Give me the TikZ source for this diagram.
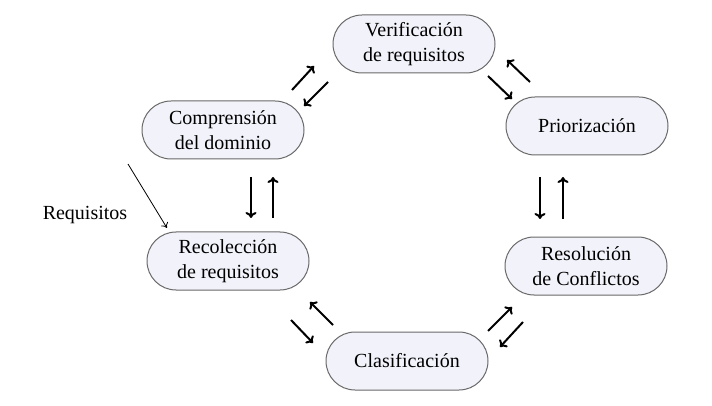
\documentclass[tikz,border=0pt]{standalone}
\usepackage{tikz}
\usepackage{fontspec}
\setmainfont{Liberation Serif}
\usetikzlibrary{positioning,arrows.meta}
\definecolor{boxfill}{RGB}{242,242,250}
\definecolor{boxline}{RGB}{105,105,105}
\tikzset{
  etapa/.style={draw=boxline, fill=boxfill, line width=1pt, rounded corners=29pt,
    minimum width=162pt, minimum height=58pt, inner sep=0pt, align=center,
    font=\fontsize{20}{24.5}\selectfont},
  flecha/.style={-{To[length=6pt,width=11pt,line width=2pt]}, line width=2pt},
  entrada/.style={-{To[length=5pt,width=8pt]}, line width=0.8pt},
}

\begin{document}
\begin{tikzpicture}[x=1pt,y=-1pt]
\useasboundingbox (0,0) rectangle (712,406);
% etapas del ciclo
\node[etapa] (verif) at (414,44) {Verificación\\de requisitos};
\node[etapa] (prior) at (587,126) {Priorización};
\node[etapa] (compr) at (223,130) {Comprensión\\del dominio};
\node[etapa] (recol) at (228,261) {Recolección\\de requisitos};
\node[etapa] (resol) at (586,266) {Resolución\\de Conflictos};
\node[etapa] (clasif) at (407,361) {Clasificación};
% entrada
\node[font=\fontsize{20}{24.5}\selectfont] (req) at (85,215) {Requisitos};
\coordinate (reqA) at (128,164);
\coordinate (reqB) at (167,228);
\draw[entrada] (reqA) -- (reqB);
% comprension <-> verificacion
\coordinate (cv1) at (292,90);  \coordinate (cv2) at (314,66);
\coordinate (cv3) at (328,82);  \coordinate (cv4) at (304,106);
\draw[flecha] (cv1) -- (cv2);
\draw[flecha] (cv3) -- (cv4);
% verificacion <-> priorizacion
\coordinate (vp1) at (488,76);  \coordinate (vp2) at (512,99);
\coordinate (vp3) at (530,82);  \coordinate (vp4) at (507,60);
\draw[flecha] (vp1) -- (vp2);
\draw[flecha] (vp3) -- (vp4);
% priorizacion <-> resolucion
\coordinate (pr1) at (540,177); \coordinate (pr2) at (540,219);
\coordinate (pr3) at (563,219); \coordinate (pr4) at (563,177);
\draw[flecha] (pr1) -- (pr2);
\draw[flecha] (pr3) -- (pr4);
% resolucion <-> clasificacion
\coordinate (rc1) at (488,331); \coordinate (rc2) at (512,307);
\coordinate (rc3) at (523,322); \coordinate (rc4) at (500,347);
\draw[flecha] (rc1) -- (rc2);
\draw[flecha] (rc3) -- (rc4);
% clasificacion <-> recoleccion
\coordinate (cr1) at (333,325); \coordinate (cr2) at (310,302);
\coordinate (cr3) at (291,320); \coordinate (cr4) at (313,343);
\draw[flecha] (cr1) -- (cr2);
\draw[flecha] (cr3) -- (cr4);
% recoleccion <-> comprension
\coordinate (rd1) at (251,177); \coordinate (rd2) at (251,218);
\coordinate (rd3) at (273,218); \coordinate (rd4) at (273,177);
\draw[flecha] (rd1) -- (rd2);
\draw[flecha] (rd3) -- (rd4);
\end{tikzpicture}
\end{document}
